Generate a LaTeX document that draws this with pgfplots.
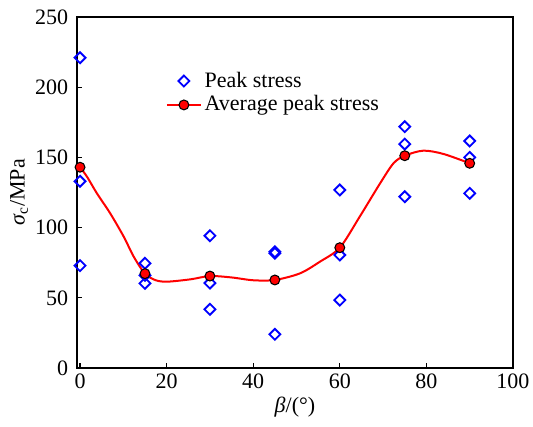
\documentclass[border=0pt]{standalone}
\usepackage{fontspec}
\setmainfont{Liberation Serif}
\usepackage{pgfplots}
\pgfplotsset{compat=1.18}
\begin{document}
\fontsize{16.5}{19}\selectfont
\begin{tikzpicture}
\begin{axis}[
  scale only axis,
  width=327pt, height=263.25pt,
  xmin=-0.7, xmax=100, ymin=0, ymax=250,
  xtick={0,20,...,100}, ytick={0,50,...,250},
  tick pos=left, tick align=inside,
  major tick length=4pt,
  axis line style={line width=0.8pt},
  tick style={line width=0.8pt, black},
  /pgf/number format/assume math mode=true,
  ticklabel style={font=\fontsize{16.5}{19}\selectfont},
  xticklabel style={yshift=1pt},
  yticklabel style={xshift=-1pt},
  xlabel={\textit{β}/(°)},
  ylabel={\textit{σ}\textsubscript{c}/MPa},
  label style={font=\fontsize{16.5}{19}\selectfont},
  xlabel style={yshift=5pt},
  ylabel style={yshift=-6pt},
  legend style={at={(0.194,0.86)}, anchor=north west, draw=none, fill=none,
    font=\fontsize{16.5}{19}\selectfont, row sep=0pt},
  legend cell align=left,
  clip=false,
]
\addplot[only marks, mark=square, mark size=2.9pt, mark options={rotate=45}, blue, line width=1.4pt,
  legend image code/.code={\draw[blue,line width=1.4pt] (0.45cm,4.1pt) -- ++(4.1pt,-4.1pt) -- ++(-4.1pt,-4.1pt) -- ++(-4.1pt,4.1pt) -- cycle;}]
coordinates {
(0,221) (0,133) (0,72.9)
(15,74.6) (15,60.3) (15,66)
(30,94.2) (30,60.5) (30,41.8)
(45,82.8) (45,81.7) (45,24)
(60,126.8) (60,80.5) (60,48.4)
(75,171.9) (75,159.5) (75,122)
(90,161.7) (90,150) (90,124.4)
};
\addlegendentry{Peak stress}
\addplot[red, line width=1.5pt, smooth, tension=0.5, forget plot] coordinates {
(0,143) (1.6,136.3) (3.9,124.4) (7,110) (10.1,93.5) (12.4,79.3) (15,67.2) (17.5,62.5) (20.2,61.5) (25.6,63.2) (30,65.5) (35,64.5) (40,62.5) (45,62.7) (50.8,67.4) (55.4,75.7) (60,85.7) (64.6,107.8) (69.3,131.5) (72.4,145.8) (75,151.2) (79.3,154.8) (84,152.4) (90,145.8)
};
\addplot[red, line width=1.5pt, mark=*, mark size=3.7pt,
  mark options={fill=red, draw=black, line width=0.8pt}, only marks,
  legend image code/.code={\draw[red, line width=1.5pt] (0cm,0cm) -- (0.9cm,0cm); \fill[red, draw=black, line width=0.8pt] (0.45cm,0cm) circle (3.7pt);}]
coordinates {
(0,143) (15,67.2) (30,65.5) (45,62.7) (60,85.7) (75,151.2) (90,145.8)
};
\addlegendentry{Average peak stress}
\end{axis}
\pgfresetboundingbox
\path (current axis.south west) ++(-57.75pt,-43.5pt) rectangle ++(399.75pt,319.5pt);
\end{tikzpicture}
\end{document}
